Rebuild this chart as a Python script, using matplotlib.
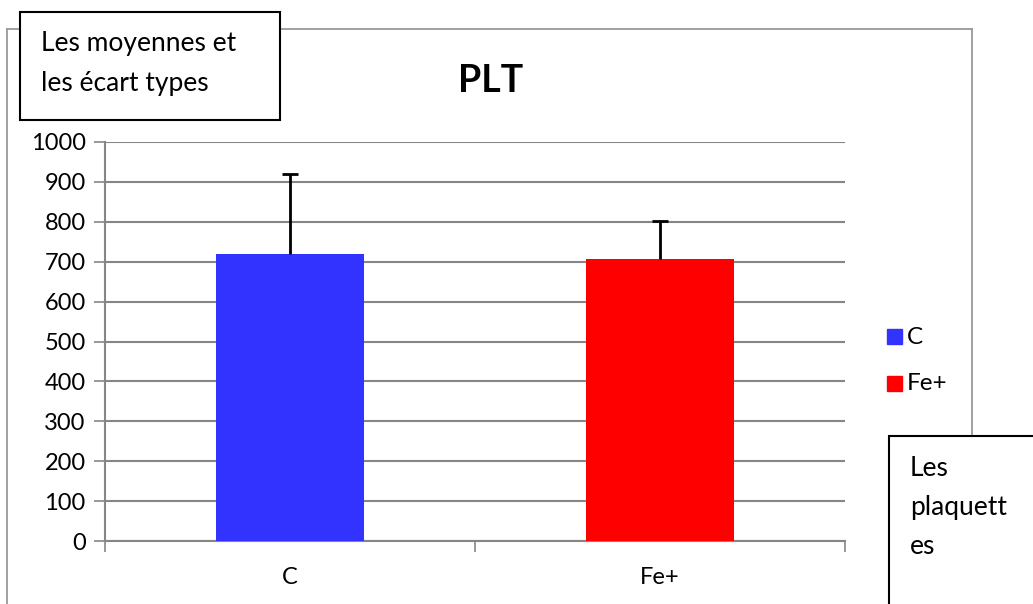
import matplotlib
matplotlib.use("Agg")
import matplotlib.pyplot as plt
from matplotlib.patches import Rectangle
from matplotlib.lines import Line2D

categories = ["C", "Fe+"]
means = [719, 707]
sds = [200, 95]
colors = ["#3333FF", "#FF0000"]
yticks = list(range(0, 1001, 100))

plt.rcParams['font.family'] = ['Lato', 'DejaVu Sans']

W, H = 1033, 604
fig = plt.figure(figsize=(W / 100, H / 100), dpi=100)
fig.patch.set_facecolor("white")

def fx(px):
    return px / W

def fy(py):
    return 1 - py / H

# outer chart border
border = "#999999"
fig.add_artist(Line2D([fx(7), fx(972)], [fy(29), fy(29)], color=border, lw=1.3, transform=fig.transFigure))
fig.add_artist(Line2D([fx(7), fx(7)], [fy(29), fy(604)], color=border, lw=1.3, transform=fig.transFigure))
fig.add_artist(Line2D([fx(972), fx(972)], [fy(29), fy(440)], color=border, lw=1.3, transform=fig.transFigure))

ax = fig.add_axes([fx(105), fy(541), fx(845) - fx(105), fy(142) - fy(541)])
x = list(range(len(categories)))
ax.bar(x, means, width=0.4, color=colors, zorder=3)
eb = ax.errorbar(x, means, yerr=[[0] * len(sds), sds], fmt='none', ecolor='black',
                 elinewidth=2, capsize=6, capthick=2, zorder=4)
eb[1][0].set_visible(False)  # hide lower caps
ax.set_xlim(-0.5, 1.5)
ax.set_ylim(0, 1000)
ax.set_yticks(yticks)
ax.set_yticklabels([str(v) for v in yticks], fontsize=17)
ax.yaxis.grid(True, color="#868686", lw=1.5, zorder=0)
ax.set_axisbelow(True)
ax.set_xticks([-0.5, 0.5, 1.5])
ax.set_xticklabels([])
ax.set_xticks(x, minor=True)
ax.set_xticklabels(categories, minor=True, fontsize=17)
ax.tick_params(axis='x', which='minor', length=0, pad=19)
ax.tick_params(axis='x', which='major', length=8, width=1.2, color="#868686", direction='out')
ax.tick_params(axis='y', length=8, width=1.2, color="#868686", direction='out', pad=6)
for s in ["top", "right"]:
    ax.spines[s].set_visible(False)
for s in ["left", "bottom"]:
    ax.spines[s].set_color("#868686")
    ax.spines[s].set_linewidth(1.5)

fig.text(fx(491), fy(81), "PLT", fontsize=27, fontweight='bold', ha='center', va='center')

# legend
for i, (lab, c) in enumerate(zip(categories, colors)):
    yc = 337 + i * 47
    fig.add_artist(Rectangle((fx(887), fy(yc + 7)), fx(15), fy(0) - fy(15), color=c,
                             transform=fig.transFigure))
    fig.text(fx(907), fy(yc), lab, fontsize=17.5, ha='left', va='center')

# text boxes
fig.add_artist(Rectangle((fx(20), fy(120)), fx(260), fy(0) - fy(108), facecolor='white',
                         edgecolor='black', lw=1.5, transform=fig.transFigure, zorder=5))
fig.text(fx(41), fy(44), "Les moyennes et", fontsize=19, ha='left', va='center', zorder=6)
fig.text(fx(41), fy(83), "les écart types", fontsize=19, ha='left', va='center', zorder=6)

fig.add_artist(Rectangle((fx(889), fy(620)), fx(160), fy(0) - fy(184), facecolor='white',
                         edgecolor='black', lw=1.5, transform=fig.transFigure, zorder=5))
for i, t in enumerate(["Les", "plaquett", "es"]):
    fig.text(fx(910), fy(469 + i * 39), t, fontsize=19, ha='left', va='center', zorder=6)

fig.savefig("out.png", dpi=100, facecolor="white")
